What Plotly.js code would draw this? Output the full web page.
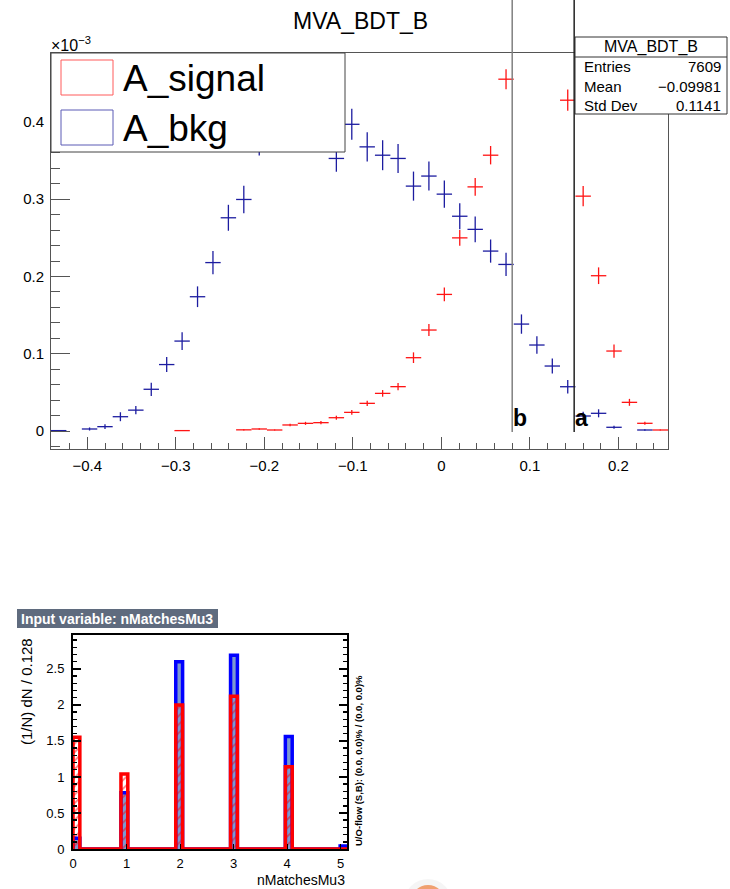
<!DOCTYPE html>
<html><head><meta charset="utf-8">
<script src="https://cdn.plot.ly/plotly-3.0.1.min.js"></script>
<style>html,body{margin:0;padding:0;background:#fff}#plot{width:730px;height:889px}</style>
</head><body><div id="plot"></div>
<script>
// ---------- Top chart: MVA_BDT_B (values in units of 1e-3) ----------
const bdtLow = -0.441, bdtHigh = 0.256, bdtBins = 40;
const bkgValues = [0.0005, null, 0.0026, 0.0056, 0.0185, 0.027, 0.054, 0.086, 0.1164, 0.1738,
  0.218, 0.276, 0.2997, 0.376, 0.40, 0.41, 0.42, 0.40, 0.3528, 0.397,
  0.3678, 0.357, 0.3528, 0.317, 0.33, 0.3066, 0.278, 0.261, 0.2329, 0.2156,
  0.1384, 0.1113, 0.0841, 0.0573, 0.0194, 0.0229, 0.0048, null, 0.0013, null];
const bkgErrors = [0.0005, 0, 0.002, 0.003, 0.0058, 0.0052, 0.0086, 0.0097, 0.0114, 0.0134,
  0.015, 0.0168, 0.0177, 0.0195, 0.02, 0.02, 0.02, 0.02, 0.0172, 0.020,
  0.019, 0.0194, 0.0188, 0.0188, 0.0188, 0.0177, 0.0168, 0.0166, 0.015, 0.015,
  0.0125, 0.0112, 0.0097, 0.0086, 0.0054, 0.0052, 0.002, 0, 0.001, 0];
const sigValues = [null, null, null, null, null, null, null, null, 0.0005, null,
  null, null, 0.0015, 0.0026, 0.0013, 0.0078, 0.0099, 0.0108, 0.0172, 0.0241,
  0.0358, 0.0487, 0.0574, 0.0949, 0.1307, 0.1768, 0.25, 0.316, 0.357, 0.4554,
  0.53, 0.56, 0.52, 0.4282, 0.304, 0.201, 0.1035, 0.0371, 0.00996, 0.0013];
const sigErrors = [0, 0, 0, 0, 0, 0, 0, 0, 0.0005, 0,
  0, 0, 0.0008, 0.001, 0.0008, 0.0017, 0.002, 0.002, 0.0026, 0.003,
  0.0035, 0.0043, 0.0047, 0.0069, 0.0078, 0.009, 0.0103, 0.0116, 0.0119, 0.013,
  0.014, 0.0145, 0.0138, 0.0138, 0.013, 0.0108, 0.0086, 0.0045, 0.002, 0.0008];
const cutValues = [0.08, 0.15];
const cutLabels = ['b', 'a'];
const cutColors = ['#808080', '#222222'];
const legendNames = ['A_signal', 'A_bkg'];
const statTitle = 'MVA_BDT_B';
const statLabels = ['Entries', 'Mean', 'Std Dev'];
const statValues = ['7609', '\u22120.09981', '0.1141'];

// ---------- Bottom chart: nMatchesMu3 ----------
const nmCategories = [0, 1, 2, 3, 4, 5];
const nmSignal = [1.55, 1.04, 2.00, 2.12, 1.14, 0];
const nmBkg = [0.15, 0.78, 2.60, 2.69, 1.56, 0.04];
const nmLow = 0, nmBinWidth = 0.128, nmBins = 40;
const nmUOText = 'U/O-flow (S,B): (0.0, 0.0)% / (0.0, 0.0)%';

// ---------- helpers ----------
const W = 730, H = 889;
const FONT = 'Liberation Sans, Arial, Helvetica, sans-serif';
const px = x => x / W;
const py = y => 1 - y / H;

const bdtWidth = (bdtHigh - bdtLow) / bdtBins;
const bdtCenters = bkgValues.map((_, i) => bdtLow + (i + 0.5) * bdtWidth);

const sigColor = 'rgb(255,20,20)';
const bkgColor = 'rgb(28,28,160)';

function errTrace(vals, errs, color) {
  return {
    type: 'scatter', mode: 'markers', x: bdtCenters, y: vals,
    xaxis: 'x', yaxis: 'y', showlegend: false, hoverinfo: 'skip',
    marker: {size: 1, color: 'rgba(0,0,0,0)'},
    error_x: {type: 'constant', value: bdtWidth / 2, width: 0, thickness: 1.3, color: color},
    error_y: {type: 'data', array: errs, width: 0, thickness: 1.3, color: color}
  };
}

// histogram arrays for the bottom panel
function binIndex(c) { return Math.min(nmBins - 1, Math.floor((c - nmLow) / nmBinWidth + 1e-9)); }
function toBins(vals) {
  const arr = new Array(nmBins).fill(0);
  nmCategories.forEach((c, k) => { arr[binIndex(c)] += vals[k]; });
  return arr;
}
const nmCenters = nmCategories.map(c => nmLow + (binIndex(c) + 0.5) * nmBinWidth);
function stepTrace(vals, color) {
  const bins = toBins(vals);
  const xs = [nmLow], ys = [0];
  for (let i = 0; i < nmBins; i++) { xs.push(nmLow + i * nmBinWidth); ys.push(bins[i]); }
  xs.push(nmLow + nmBins * nmBinWidth); ys.push(0);
  return {type: 'scatter', mode: 'lines', x: xs, y: ys, xaxis: 'x2', yaxis: 'y2',
    line: {shape: 'hv', color: color, width: 3.5}, cliponaxis: false, showlegend: false, hoverinfo: 'skip'};
}

const traces = [
  errTrace(sigValues, sigErrors, sigColor),
  errTrace(bkgValues, bkgErrors, bkgColor),
  {type: 'bar', x: nmCenters, y: nmBkg, width: nmBinWidth, xaxis: 'x2', yaxis: 'y2',
    marker: {color: '#7d98d0', line: {width: 0}}, showlegend: false, hoverinfo: 'skip'},
  stepTrace(nmBkg, '#0000ff'),
  {type: 'bar', x: nmCenters, y: nmSignal, width: nmBinWidth, xaxis: 'x2', yaxis: 'y2',
    marker: {color: 'rgba(0,0,0,0)', line: {width: 0},
      pattern: {shape: '/', fgcolor: '#ff0000', bgcolor: 'rgba(0,0,0,0)', size: 6, solidity: 0.3, fillmode: 'overlay'}},
    showlegend: false, hoverinfo: 'skip'},
  stepTrace(nmSignal, '#ff0000')
];

function ann(text, x, y, size, opts) {
  return Object.assign({text: text, xref: 'paper', yref: 'paper', x: px(x), y: py(y),
    showarrow: false, xanchor: 'center', yanchor: 'middle',
    font: {family: FONT, size: size, color: '#000'}}, opts || {});
}
function rect(x0, y0, x1, y1, line, fill) {
  return {type: 'rect', xref: 'paper', yref: 'paper', x0: px(x0), x1: px(x1), y0: py(y1), y1: py(y0),
    line: line, fillcolor: fill || 'rgba(0,0,0,0)', layer: 'above'};
}

const shapes = [
  // legend box
  rect(51, 53, 345, 152, {color: '#444', width: 1}, '#ffffff'),
  rect(61, 60, 113, 95, {color: '#ff5a5a', width: 1}),
  rect(61, 110, 113, 145, {color: '#5a5ab5', width: 1}),
  // stats box
  rect(575, 37, 727, 114, {color: '#333', width: 1}, '#ffffff'),
  {type: 'line', xref: 'paper', yref: 'paper', x0: px(575), x1: px(727), y0: py(57), y1: py(57),
    line: {color: '#333', width: 1}, layer: 'above'},
  // bottom title box
  rect(17, 609, 218, 628, {width: 0}, '#5f6b7e'),
  // orange logo fragment
  {type: 'circle', xref: 'paper', yref: 'paper', x0: px(404), x1: px(452), y0: py(927), y1: py(879),
    line: {width: 0}, fillcolor: 'rgba(0,0,0,0.04)', layer: 'above'},
  {type: 'circle', xref: 'paper', yref: 'paper', x0: px(411), x1: px(445), y0: py(919), y1: py(885),
    line: {width: 0}, fillcolor: '#f0a070', layer: 'above'}
];
cutValues.forEach((c, i) => {
  shapes.push({type: 'line', xref: 'x', yref: 'paper', x0: c, x1: c, y0: py(432), y1: 1,
    line: {color: cutColors[i], width: 1.5}, layer: 'above'});
});

const annotations = [
  ann('MVA_BDT_B', 360, 21, 23),
  ann('\u00d710<sup>\u22123</sup>', 49, 44, 16, {xanchor: 'left'}),
  ann(legendNames[0], 121, 78, 37, {xanchor: 'left'}),
  ann(legendNames[1], 121, 128, 37, {xanchor: 'left'}),
  ann(statTitle, 651, 47, 16),
  ann('<b>Input variable: nMatchesMu3</b>', 19, 618.5, 14, {xanchor: 'left', font: {family: FONT, size: 14, color: '#fff'}}),
  ann('(1/N) dN / 0.128', 26, 692, 15, {textangle: -90}),
  ann('nMatchesMu3', 347, 880, 14, {xanchor: 'right'}),
  ann('<b>' + nmUOText + '</b>', 358, 761, 9.5, {textangle: -90})
];
statLabels.forEach((l, i) => {
  const y = 67 + i * 19.3;
  annotations.push(ann(l, 582, y, 15, {xanchor: 'left'}));
  annotations.push(ann(statValues[i], 723, y, 15, {xanchor: 'right'}));
});
cutValues.forEach((c, i) => {
  annotations.push({text: '<b>' + cutLabels[i] + '</b>', xref: 'x', yref: 'paper', x: c, y: py(433),
    xanchor: 'left', yanchor: 'bottom', showarrow: false, xshift: -1,
    font: {family: FONT, size: 23, color: '#000'}});
});

const layout = {
  width: W, height: H, margin: {l: 0, r: 0, t: 0, b: 0},
  paper_bgcolor: '#fff', plot_bgcolor: '#fff', showlegend: false, barmode: 'overlay',
  font: {family: FONT, color: '#000'},
  xaxis: {domain: [px(51), px(668)], range: [bdtLow, bdtHigh], anchor: 'y',
    showgrid: false, zeroline: false, showline: true, linecolor: '#555', linewidth: 1, mirror: true,
    ticks: 'inside', ticklen: 12, tickcolor: '#555', dtick: 0.1, tick0: 0,
    minor: {ticks: 'inside', ticklen: 6, dtick: 0.02, tick0: 0, tickcolor: '#555'},
    tickfont: {family: FONT, size: 15, color: '#000'}, ticklabelstandoff: 3},
  yaxis: {domain: [py(449), py(53)], range: [-0.0233, 0.4893], anchor: 'x',
    showgrid: false, zeroline: false, showline: true, linecolor: '#555', linewidth: 1, mirror: true,
    ticks: 'inside', ticklen: 19, tickcolor: '#555', dtick: 0.1, tick0: 0,
    minor: {ticks: 'inside', ticklen: 9, dtick: 0.02, tick0: 0, tickcolor: '#555'},
    tickfont: {family: FONT, size: 15, color: '#000'}, ticklabelstandoff: 3},
  xaxis2: {domain: [px(73), px(347)], range: [nmLow, nmLow + nmBins * nmBinWidth], anchor: 'y2',
    showgrid: false, zeroline: false, showline: true, linecolor: '#000', linewidth: 2, mirror: true,
    ticks: 'inside', ticklen: 5, tickcolor: '#000', dtick: 1, tick0: 0,
    tickfont: {family: FONT, size: 13, color: '#000'}, ticklabelstandoff: 1},
  yaxis2: {domain: [py(849), py(635)], range: [0, 2.97], anchor: 'x2',
    showgrid: false, zeroline: false, showline: true, linecolor: '#000', linewidth: 2, mirror: 'allticks',
    ticks: 'inside', ticklen: 8, tickcolor: '#000', tickwidth: 1.5, dtick: 0.5, tick0: 0,
    minor: {ticks: 'inside', ticklen: 4, dtick: 0.1, tick0: 0, tickcolor: '#000'},
    tickfont: {family: FONT, size: 13, color: '#000'}, ticklabelstandoff: 4},
  shapes: shapes,
  annotations: annotations
};

Plotly.newPlot('plot', traces, layout, {staticPlot: true, displayModeBar: false});
</script>
</body></html>
